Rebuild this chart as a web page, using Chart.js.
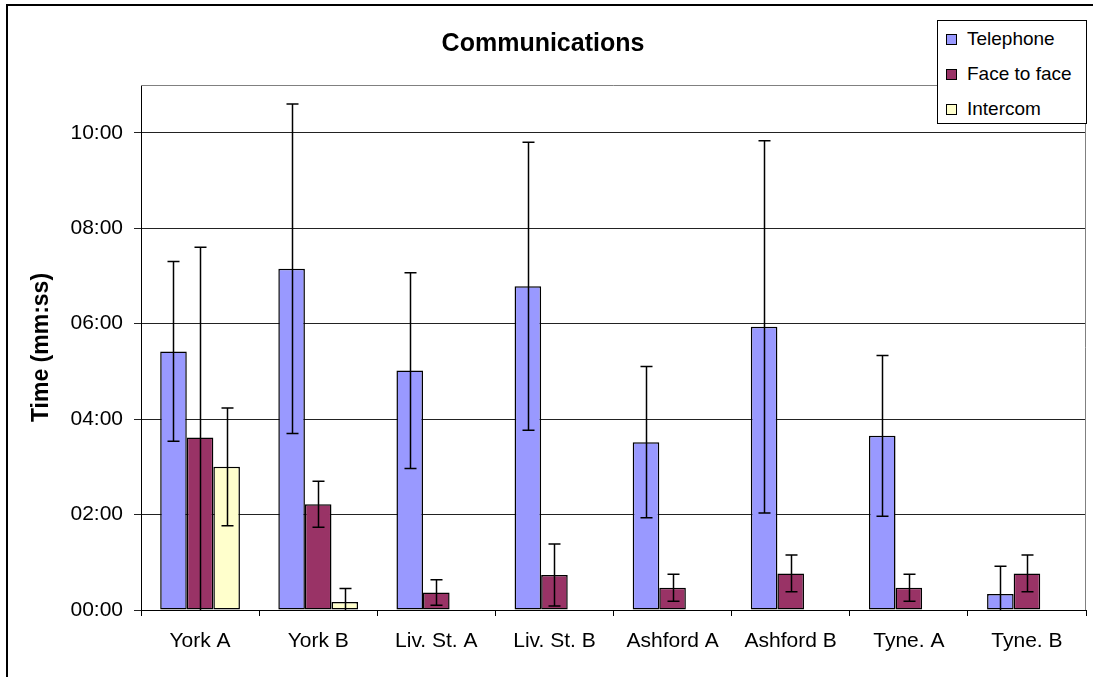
<!DOCTYPE html>
<html>
<head>
<meta charset="utf-8">
<script src="https://cdn.jsdelivr.net/npm/chart.js@4.4.0/dist/chart.umd.min.js"></script>
<style>
  body { margin: 0; background: #fff; }
  #wrap { position: relative; width: 1093px; height: 677px; }
  #legend {
    position: absolute; left: 937px; top: 20px; width: 148px; height: 102px;
    border: 1px solid #000; background: #fff;
    font-family: Arial, "Liberation Sans", sans-serif; font-size: 19px; color: #000;
  }
  .item { position: absolute; left: 8px; height: 22px; line-height: 22px; white-space: nowrap; }
  .item i { display: inline-block; width: 9px; height: 9px; border: 1px solid #000; margin-right: 10px; vertical-align: 0px; }
</style>
</head>
<body>
<div id="wrap">
  <canvas id="chart" width="1093" height="677"></canvas>
  <div id="legend"></div>
</div>
<script>
// 데이터 (초 단위)
const categories = ['York A', 'York B', 'Liv. St. A', 'Liv. St. B', 'Ashford A', 'Ashford B', 'Tyne. A', 'Tyne. B'];
const seriesNames = ['Telephone', 'Face to face', 'Intercom'];
const telephone = [325, 429, 301, 407, 211, 356, 219, 20];
const telephoneErr = [113, 207, 123, 181, 95, 234, 101, 35];
const faceToFace = [217, 133, 22, 44, 28, 46, 28, 46];
const faceToFaceErr = [239, 29, 16, 39, 17, 23, 17, 23];
const intercom = [180, 10, 0, 0, 0, 0, 0, 0];
const intercomErr = [74, 17, 0, 0, 0, 0, 0, 0];
const yTicks = [0, 120, 240, 360, 480, 600];

const colors = ['#9999FF', '#993366', '#FFFFCC'];
const errors = [telephoneErr, faceToFaceErr, intercomErr];

Chart.defaults.font.family = 'Arial, "Liberation Sans", sans-serif';
Chart.defaults.color = '#000';

function mmss(v) {
  const m = Math.floor(v / 60), s = v % 60;
  return String(m).padStart(2, '0') + ':' + String(s).padStart(2, '0');
}

// 플롯 영역 테두리 (위/오른쪽 회색) + 바깥 테두리
const frame = {
  id: 'frame',
  beforeDatasetsDraw(chart) {
    const { ctx, chartArea: a } = chart;
    ctx.save();
    ctx.strokeStyle = '#808080';
    ctx.lineWidth = 1;
    ctx.beginPath();
    ctx.moveTo(a.left, a.top + 0.5);
    ctx.lineTo(a.right - 0.5, a.top + 0.5);
    ctx.lineTo(a.right - 0.5, a.bottom);
    ctx.stroke();
    ctx.restore();
  },
  afterDraw(chart) {
    const ctx = chart.ctx;
    ctx.save();
    ctx.strokeStyle = '#000';
    ctx.lineWidth = 2;
    ctx.beginPath();
    ctx.moveTo(7, 677);
    ctx.lineTo(7, 5);
    ctx.lineTo(1093, 5);
    ctx.stroke();
    ctx.restore();
  }
};

// 오차 막대
const errorBars = {
  id: 'errorBars',
  afterDatasetsDraw(chart) {
    const { ctx, chartArea: a, scales: { y } } = chart;
    ctx.save();
    ctx.beginPath();
    ctx.rect(a.left, a.top, a.right - a.left, a.bottom - a.top);
    ctx.clip();
    ctx.strokeStyle = '#000';
    ctx.lineWidth = 1.5;
    chart.data.datasets.forEach((ds, i) => {
      const meta = chart.getDatasetMeta(i);
      meta.data.forEach((bar, j) => {
        const err = errors[i][j];
        if (!err) return;
        const v = ds.data[j];
        const yTop = y.getPixelForValue(v + err);
        const yBot = y.getPixelForValue(v - err);
        const x = Math.round(bar.x) + 0.5;
        ctx.beginPath();
        ctx.moveTo(x, yTop);
        ctx.lineTo(x, yBot);
        ctx.moveTo(x - 6, yTop);
        ctx.lineTo(x + 6, yTop);
        if (v - err >= 0) {
          ctx.moveTo(x - 6, yBot);
          ctx.lineTo(x + 6, yBot);
        }
        ctx.stroke();
      });
    });
    ctx.restore();
  }
};

const seriesData = [telephone, faceToFace, intercom];

new Chart(document.getElementById('chart'), {
  type: 'bar',
  data: {
    labels: categories,
    datasets: seriesData.map((d, i) => ({
      label: seriesNames[i],
      data: d,
      backgroundColor: colors[i],
      borderColor: '#000',
      borderWidth: 1.5,
      borderSkipped: false,
      categoryPercentage: 0.675,
      barPercentage: 1
    }))
  },
  options: {
    responsive: false,
    animation: false,
    layout: { padding: { left: 0, right: 7, top: 0, bottom: 0 } },
    plugins: {
      legend: { display: false },
      tooltip: { enabled: false },
      title: {
        display: true,
        text: 'Communications',
        font: { size: 25, weight: 'bold' },
        padding: { top: 29, bottom: 26 }
      }
    },
    scales: {
      x: {
        grid: { offset: true, drawOnChartArea: false, color: '#000', tickLength: 6 },
        border: { color: '#000', width: 1 },
        ticks: { font: { size: 21 }, padding: 13, maxRotation: 0, autoSkip: false },
        afterFit(scale) { scale.height = 67; }
      },
      y: {
        min: 0,
        max: 660,
        grid: { color: '#222', tickLength: 7 },
        border: { color: '#000', width: 1 },
        ticks: { stepSize: 120, includeBounds: false, font: { size: 21 }, padding: 11, callback: v => mmss(v) },
        afterBuildTicks(scale) { scale.ticks = yTicks.map(v => ({ value: v })); },
        title: { display: true, text: 'Time (mm:ss)', font: { size: 23, weight: 'bold' }, padding: { top: 28, bottom: 0 } },
        afterFit(scale) { scale.width = 141; }
      }
    }
  },
  plugins: [frame, errorBars]
});

// 범례
const legend = document.getElementById('legend');
seriesNames.forEach((name, i) => {
  const item = document.createElement('div');
  item.className = 'item';
  item.style.top = (7 + i * 35) + 'px';
  item.innerHTML = `<i style="background:${colors[i]}"></i>${name}`;
  legend.appendChild(item);
});
</script>
</body>
</html>
